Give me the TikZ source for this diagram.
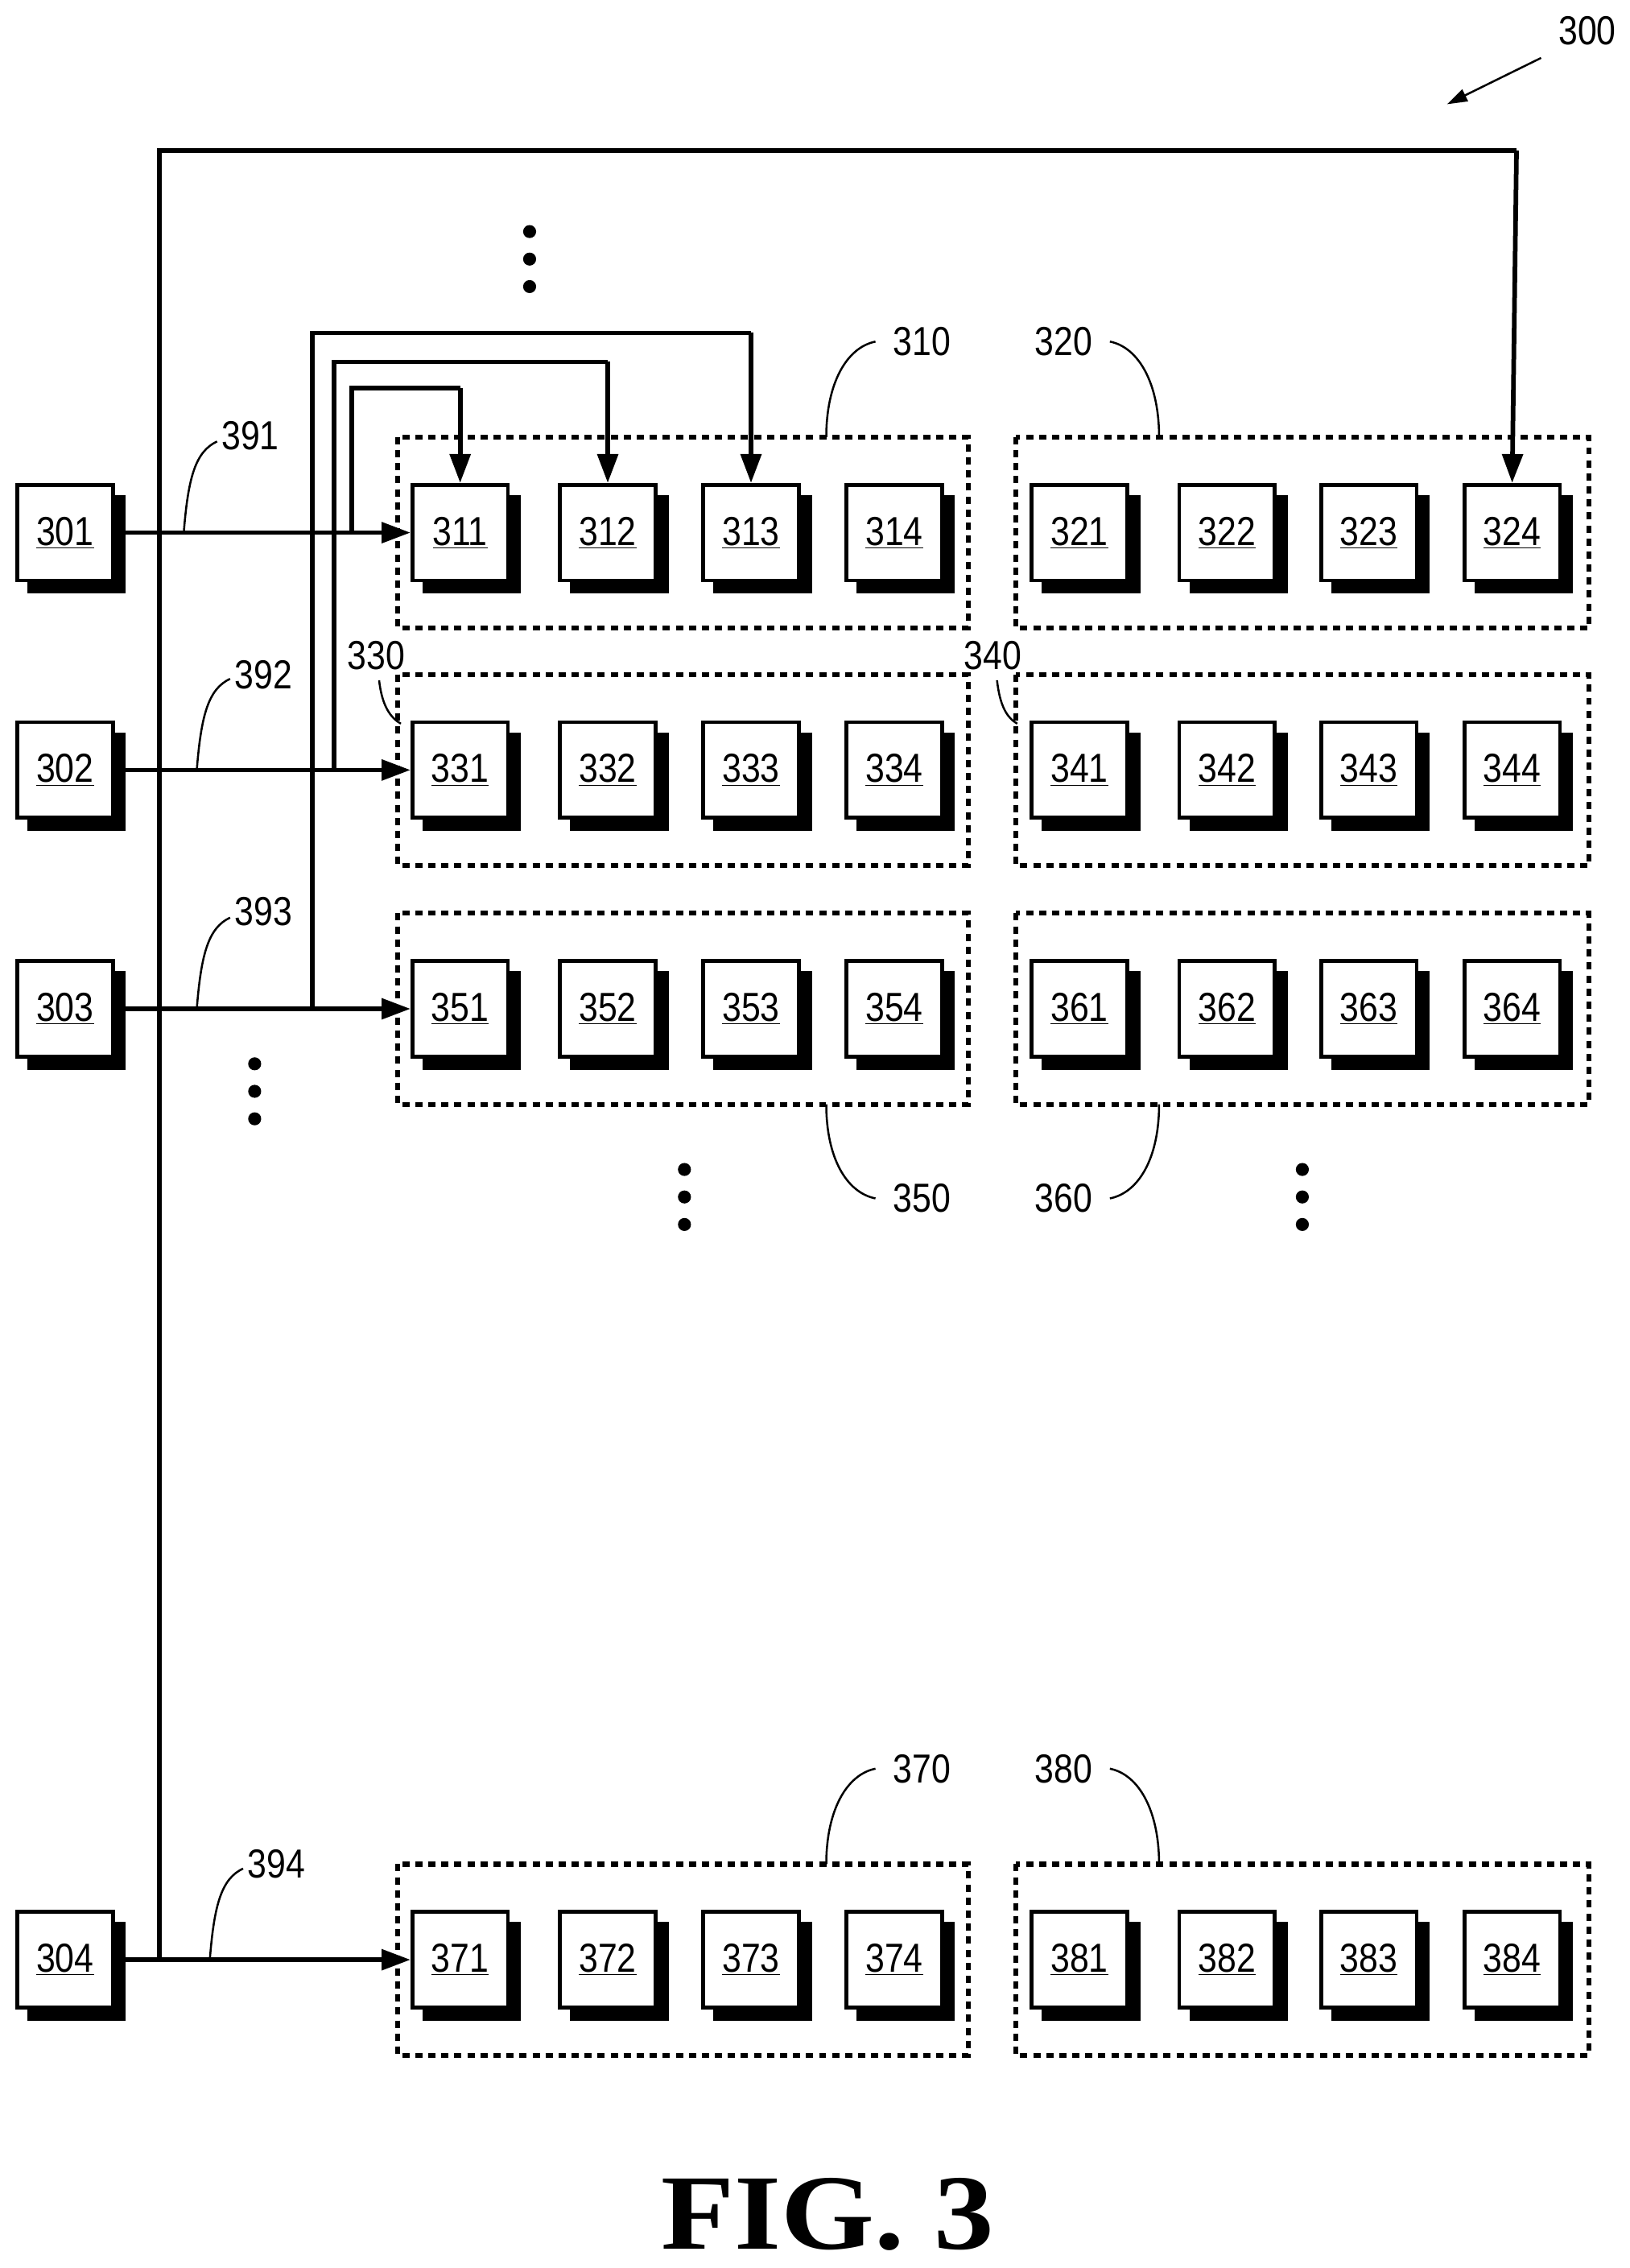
\documentclass[tikz,border=0pt]{standalone}
\usepackage{fontspec}
\setmainfont{Liberation Sans}
\newfontfamily\figfont{Liberation Serif}
\usetikzlibrary{arrows.meta}
\begin{document}
\begin{tikzpicture}[x=1pt,y=-1pt,
  lab/.style={font=\fontsize{28}{30}\selectfont,inner sep=0pt, xscale=0.85},
  wire/.style={line width=3.2pt},
  arr/.style={wire,-{Triangle[length=20pt,width=14pt]}},
  lead/.style={line width=1.4pt},
  grp/.style={line width=3.4pt,dash pattern=on 5pt off 4pt},
  dot/.style={circle,fill,inner sep=0pt,minimum size=9pt}]
\useasboundingbox (0,0) rectangle (1126,1567);
\newcommand{\blk}[3]{%
  \fill (#1-26,#2-26) rectangle (#1+42,#2+42);
  \node[draw,fill=white,line width=2.6pt,minimum width=66pt,minimum height=66pt,inner sep=0pt] (#3) at (#1,#2) {\fontsize{28}{30}\selectfont\scalebox{0.85}[1]{\underline{#3}}};}
% groups
\foreach \y in {368,532,697,1354}{
  \draw[grp] (275,\y-66) rectangle (669,\y+66);
  \draw[grp] (702,\y-66) rectangle (1098,\y+66);
}
% blocks
\foreach \y/\r in {368/1,532/3,697/5,1354/7}{
  \foreach \x/\c in {318/1,420/2,519/3,618/4}{\blk{\x}{\y}{3\r\c}}
}
\foreach \y/\r in {368/2,532/4,697/6,1354/8}{
  \foreach \x/\c in {746/1,848/2,946/3,1045/4}{\blk{\x}{\y}{3\r\c}}
}
\blk{45}{368}{301}\blk{45}{532}{302}\blk{45}{697}{303}\blk{45}{1354}{304}
% wires
\draw[arr] (301) -- (311);
\draw[arr] (302) -- (331);
\draw[arr] (303) -- (351);
\draw[arr] (304) -- (371);
\draw[wire] (110,1354) -- (110,104) -- (1048,104) coordinate (t);
\draw[arr] (t) -- (324.north);
\draw[wire] (216,697) -- (216,230) -- (519,230);
\draw[arr] (519,230) -- (313.north);
\draw[wire] (231,532) -- (231,250) -- (420,250);
\draw[arr] (420,250) -- (312.north);
\draw[wire] (243,368) -- (243,268) -- (318,268);
\draw[arr] (318,268) -- (311.north);
% labels
\node[lab] at (173,301) {391};
\draw[lead] (127,368) .. controls (130,330) and (135,312) .. (150,305);
\node[lab] at (182,466) {392};
\draw[lead] (136,532) .. controls (139,494) and (144,476) .. (159,469);
\node[lab] at (182,630) {393};
\draw[lead] (136,697) .. controls (139,659) and (144,641) .. (159,634);
\node[lab] at (191,1288) {394};
\draw[lead] (145,1354) .. controls (148,1316) and (153,1298) .. (168,1291);
\node[lab] at (637,236) {310};
\draw[lead] (571,302) .. controls (571,265) and (585,240) .. (605,236);
\node[lab] at (735,236) {320};
\draw[lead] (767,236) .. controls (787,240) and (801,265) .. (801,302);
\node[lab] at (260,453) {330};
\draw[lead] (262,470) .. controls (264,488) and (270,496) .. (277,500);
\node[lab] at (686,453) {340};
\draw[lead] (689,470) .. controls (691,488) and (696,496) .. (703,500);
\node[lab] at (637,828) {350};
\draw[lead] (571,763) .. controls (571,800) and (585,824) .. (605,828);
\node[lab] at (735,828) {360};
\draw[lead] (767,828) .. controls (787,824) and (801,800) .. (801,763);
\node[lab] at (637,1222) {370};
\draw[lead] (571,1288) .. controls (571,1251) and (585,1226) .. (605,1222);
\node[lab] at (735,1222) {380};
\draw[lead] (767,1222) .. controls (787,1226) and (801,1251) .. (801,1288);
\node[lab] (n300) at (1097,21) {300};
\coordinate (a300) at (1000,72);
\draw[lead,-{Triangle[length=14pt,width=9pt]}] (1065,40) -- (a300);
% dots
\foreach \x/\y in {366/160,176/735,473/808,900/808}{
  \node[dot] (d\x a) at (\x,\y) {};
  \node[dot] (d\x b) at (\x,\y+19) {};
  \node[dot] (d\x c) at (\x,\y+38) {};
}
\node[font=\figfont\bfseries\fontsize{74}{76}\selectfont,xscale=1.12] (fig) at (572,1530) {FIG. 3};
\end{tikzpicture}
\end{document}
